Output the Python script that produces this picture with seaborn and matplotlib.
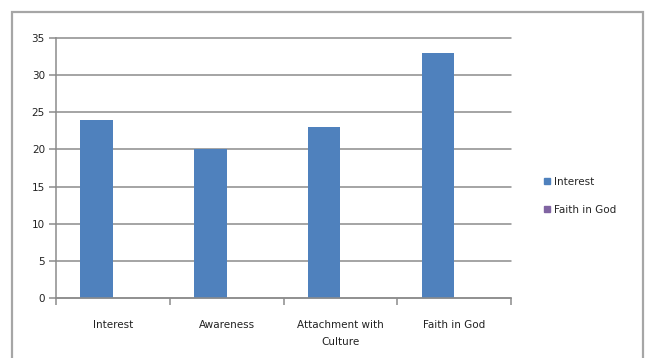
import matplotlib
matplotlib.use("Agg")
import matplotlib.pyplot as plt
import matplotlib.patches as mpatches
from matplotlib.lines import Line2D
import numpy as np
import pandas as pd
import seaborn as sns

# Survey factors and their scores
categories = ["Interest", "Awareness", "Attachment with\nCulture", "Faith in God"]
series_names = ["Interest", "Faith in God"]
interest_values = [24, 20, 23, 33]
faith_values = [0, 0, 0, 0]
y_ticks = [0, 5, 10, 15, 20, 25, 30, 35]

colors = {"Interest": "#4F81BD", "Faith in God": "#8064A2"}
grid_grey = "#8C8C8C"

df = pd.DataFrame({
    "category": categories * 2,
    "series": [series_names[0]] * 4 + [series_names[1]] * 4,
    "value": interest_values + faith_values,
})

sns.set_theme(style="white")
plt.rcParams["font.family"] = ["DejaVu Sans"]

W, H = 645, 358
fig = plt.figure(figsize=(W / 100, H / 100), dpi=100)
fig.patch.set_facecolor("white")

# Outer chart frame
frame = mpatches.Rectangle((12 / W, -0.05), (643 - 12) / W, (H - 12) / H + 0.05,
                           transform=fig.transFigure, fill=False,
                           edgecolor="#A6A6A6", linewidth=1.6)
fig.patches.append(frame)

left, right, top, bottom = 56, 511, 38, 298
ax = fig.add_axes([left / W, 1 - bottom / H, (right - left) / W, (bottom - top) / H])

sns.barplot(data=df, x="category", y="value", hue="series",
            hue_order=series_names, order=categories, palette=colors,
            width=0.572, dodge=True, saturation=1, legend=False, ax=ax,
            linewidth=0)

ax.set_xlim(-0.5, len(categories) - 0.5)
ax.set_ylim(0, 35)
ax.set_yticks(y_ticks)
ax.set_yticklabels([str(v) for v in y_ticks], fontsize=7.5, color="#222222")
ax.set_xlabel("")
ax.set_ylabel("")
ax.yaxis.grid(True, color=grid_grey, linewidth=1.1)
ax.set_axisbelow(True)
for gl in ax.get_ygridlines():
    gl.set_clip_on(False)

# Category labels centred, ticks at category boundaries
ax.set_xticks(range(len(categories)))
ax.set_xticklabels(categories, fontsize=7.5, color="#222222", linespacing=1.9)
ax.set_xticks(np.arange(-0.5, len(categories), 1.0), minor=True)
ax.tick_params(axis="x", which="major", length=0, pad=16)
ax.tick_params(axis="x", which="minor", length=5, width=1.1, color=grid_grey,
               direction="out", bottom=True)
ax.tick_params(axis="y", length=5, width=1.1, color=grid_grey, direction="out",
               left=True, pad=3)

for side in ["top", "right"]:
    ax.spines[side].set_visible(False)
for side in ["left", "bottom"]:
    ax.spines[side].set_color(grid_grey)
    ax.spines[side].set_linewidth(1.1)

handles = [Line2D([], [], marker="s", linestyle="none", markersize=5,
                  markerfacecolor=colors[s], markeredgecolor=colors[s])
           for s in series_names]
fig.legend(handles, series_names, loc="center left",
           bbox_to_anchor=(532 / W, 1 - 196 / H), frameon=False,
           fontsize=7.5, handletextpad=0.2, labelspacing=1.75,
           handlelength=1.0)

fig.savefig("out.png", dpi=100)
